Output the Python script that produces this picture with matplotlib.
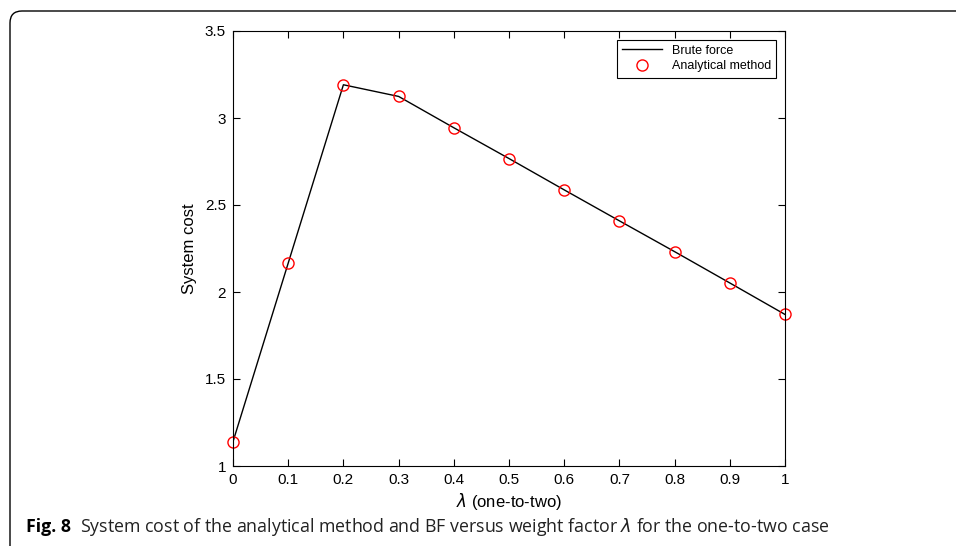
import matplotlib
matplotlib.use("Agg")
import matplotlib.pyplot as plt
from matplotlib import rcParams
from matplotlib.patches import FancyBboxPatch

rcParams['font.family'] = 'sans-serif'
rcParams['font.sans-serif'] = ['Liberation Sans']
rcParams['mathtext.fontset'] = 'dejavusans'

# data
weight_factor = [0.0, 0.1, 0.2, 0.3, 0.4, 0.5, 0.6, 0.7, 0.8, 0.9, 1.0]
cost_brute_force = [1.140, 2.166, 3.191, 3.124, 2.944, 2.767, 2.587, 2.409, 2.232, 2.052, 1.871]
cost_analytical = [1.140, 2.166, 3.191, 3.124, 2.944, 2.767, 2.587, 2.409, 2.232, 2.052, 1.871]
x_ticks = [0, 0.1, 0.2, 0.3, 0.4, 0.5, 0.6, 0.7, 0.8, 0.9, 1]
x_tick_labels = ["0", "0.1", "0.2", "0.3", "0.4", "0.5", "0.6", "0.7", "0.8", "0.9", "1"]
y_ticks = [1, 1.5, 2, 2.5, 3, 3.5]
y_tick_labels = ["1", "1.5", "2", "2.5", "3", "3.5"]

W, H = 956, 546
fig = plt.figure(figsize=(W / 100, H / 100), dpi=100)

# page frame (rounded top-left corner)
frame = FancyBboxPatch((0.10, -1.0), 12.0, 5.35 + 1.0, boxstyle="round,pad=0,rounding_size=0.12",
                       transform=fig.dpi_scale_trans, fill=False, edgecolor='black', lw=1.0,
                       clip_on=False)
fig.patches.append(frame)

ax = fig.add_axes([233 / W, 1 - 466 / H, (785 - 233) / W, (466 - 31) / H])
ax.plot(weight_factor, cost_brute_force, 'k-', lw=1.0, label="Brute force")
ax.plot(weight_factor, cost_analytical, 'o', color='red', mfc='none', mew=1.0, ms=8,
        label="Analytical method", clip_on=False)

ax.set_xlim(0, 1)
ax.set_ylim(1, 3.5)
ax.set_xticks(x_ticks)
ax.set_xticklabels(x_tick_labels)
ax.set_yticks(y_ticks)
ax.set_yticklabels(y_tick_labels)
ax.tick_params(direction='in', top=True, right=True, length=5, width=0.8, labelsize=11, pad=5)
for s in ax.spines.values():
    s.set_linewidth(0.8)
ax.set_xlabel(r"$\lambda$ (one-to-two)", fontsize=12, labelpad=3)
ax.set_ylabel("System cost", fontsize=12, labelpad=6)

legend = ax.legend(loc='upper right', fontsize=9, fancybox=False, edgecolor='black',
                   framealpha=1.0, handlelength=3.2, borderaxespad=0.7, borderpad=0.4,
                   labelspacing=0.3)
legend.get_frame().set_linewidth(0.8)

# caption
cap1 = fig.text(26 / W, 1 - 527 / H, "Fig. 8", fontsize=12.8, fontweight='bold',
                family='Open Sans', va='center', ha='left')
fig.canvas.draw()
bb = cap1.get_window_extent(fig.canvas.get_renderer())
fig.text((bb.x1 + 9) / W, 1 - 527 / H,
         r"System cost of the analytical method and BF versus weight factor $\lambda$ for the one-to-two case",
         fontsize=12.8, family='Open Sans', va='center', ha='left', color='#222222')

fig.savefig("out.png", dpi=100)
